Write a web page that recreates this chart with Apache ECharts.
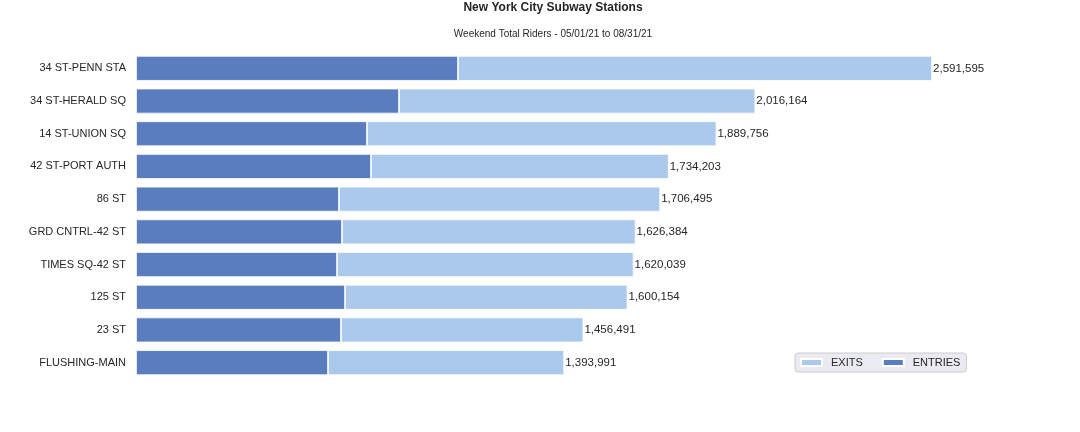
<!DOCTYPE html>
<html>
<head>
<meta charset="utf-8">
<script src="https://cdn.jsdelivr.net/npm/echarts@6/dist/echarts.min.js"></script>
<style>
  html, body { margin: 0; padding: 0; background: #fff; }
  #main { width: 1080px; height: 432px; }
</style>
</head>
<body>
<div id="main"></div>
<script>
var stations = ["34 ST-PENN STA", "34 ST-HERALD SQ", "14 ST-UNION SQ", "42 ST-PORT AUTH", "86 ST",
    "GRD CNTRL-42 ST", "TIMES SQ-42 ST", "125 ST", "23 ST", "FLUSHING-MAIN"];
var totals = [2591595, 2016164, 1889756, 1734203, 1706495, 1626384, 1620039, 1600154, 1456491, 1393991];
var entries = [1048300, 856300, 752100, 765100, 660900, 670700, 654400, 680500, 667400, 625100];
var exits = totals.map(function (t, i) { return t - entries[i]; });

var myChart = echarts.init(document.getElementById('main'), null, { renderer: 'canvas' });

var option = {
    backgroundColor: '#ffffff',
    animation: false,
    title: [{
        text: 'New York City Subway Stations',
        left: 553, top: 2, textAlign: 'center', padding: 0,
        textStyle: { fontFamily: 'Liberation Sans', fontSize: 12, fontWeight: 'bold', color: '#262626' }
    }, {
        text: 'Weekend Total Riders - 05/01/21 to 08/31/21',
        left: 553, top: 29, textAlign: 'center', padding: 0,
        textStyle: { fontFamily: 'Liberation Sans', fontSize: 10, fontWeight: 'normal', color: '#262626' }
    }],
    legend: {
        data: ['EXITS', 'ENTRIES'],
        left: 795, top: 353,
        padding: [4, 6, 4, 5],
        itemWidth: 21, itemHeight: 7, itemGap: 19,
        backgroundColor: '#eaeaf2',
        borderColor: '#cccccc', borderWidth: 1, borderRadius: 3,
        icon: 'rect',
        textStyle: { fontFamily: 'Liberation Sans', fontSize: 11, color: '#262626', padding: [0, 0, 0, 4] }
    },
    grid: { left: 136, top: 52, width: 921.5, height: 327, containLabel: false },
    xAxis: {
        type: 'value', min: 0, max: 3000000, show: false
    },
    yAxis: {
        type: 'category', inverse: true, data: stations,
        axisLine: { show: false }, axisTick: { show: false },
        axisLabel: { fontFamily: 'Liberation Sans', fontSize: 11, color: '#262626', margin: 10 }
    },
    series: [{
        name: 'ENTRIES', type: 'bar', stack: 'riders',
        barWidth: 25,
        itemStyle: { color: '#5a7dc0', borderColor: '#ffffff', borderWidth: 0.8 },
        data: entries
    }, {
        name: 'EXITS', type: 'bar', stack: 'riders',
        barWidth: 25,
        itemStyle: { color: '#abc9ec', borderColor: '#ffffff', borderWidth: 0.8 },
        label: {
            show: true, position: 'right', distance: 1,
            fontFamily: 'Liberation Sans', fontSize: 11.5, color: '#262626',
            formatter: function (p) { return totals[p.dataIndex].toLocaleString('en-US'); }
        },
        data: exits
    }]
};

myChart.setOption(option);
window.addEventListener('resize', myChart.resize);
</script>
</body>
</html>
